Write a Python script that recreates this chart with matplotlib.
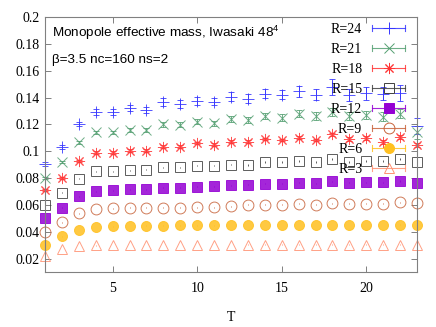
import numpy as np
import matplotlib
matplotlib.use("Agg")
import matplotlib.pyplot as plt
from matplotlib.lines import Line2D
from matplotlib.legend_handler import HandlerBase
from matplotlib.container import ErrorbarContainer
from matplotlib.ticker import FormatStrFormatter

plt.rcParams['font.family'] = 'Liberation Serif'
plt.rcParams['mathtext.fontset'] = 'custom'
plt.rcParams['mathtext.rm'] = 'Liberation Sans'

T = np.arange(1, 24)
labels = ["R=24", "R=21", "R=18", "R=15", "R=12", "R=9", "R=6", "R=3"]

r24 = [0.0905, 0.1035, 0.120, 0.129, 0.129, 0.132, 0.1307, 0.1365, 0.1352, 0.1375, 0.137, 0.1405,
       0.1392, 0.143, 0.142, 0.1445, 0.142, 0.148, 0.142, 0.1432, 0.143, 0.1432, 0.119]
e24 = [0.0015, 0.0015, 0.0015, 0.0022, 0.0022, 0.0022, 0.0022, 0.0028, 0.0028, 0.0028, 0.0028, 0.0033,
       0.0033, 0.0033, 0.0033, 0.004, 0.004, 0.006, 0.0045, 0.005, 0.005, 0.006, 0.006]
r21 = [0.080, 0.092, 0.1065, 0.114, 0.114, 0.1157, 0.1157, 0.1202, 0.1196, 0.122, 0.1207, 0.124,
       0.1232, 0.1262, 0.125, 0.128, 0.126, 0.1295, 0.126, 0.127, 0.1257, 0.128, 0.114]
e21 = [0.001, 0.001, 0.001, 0.0012, 0.0012, 0.0015, 0.0015, 0.0018, 0.0018, 0.002, 0.002, 0.0022,
       0.0022, 0.0025, 0.0025, 0.0028, 0.003, 0.003, 0.003, 0.0032, 0.0032, 0.0035, 0.005]
r18 = [0.0708, 0.0803, 0.093, 0.099, 0.099, 0.1005, 0.1005, 0.1035, 0.1035, 0.106, 0.105, 0.107,
       0.107, 0.109, 0.1083, 0.110, 0.1083, 0.1125, 0.109, 0.110, 0.107, 0.1108, 0.1045]
e18 = [0.0008] * 10 + [0.001] * 8 + [0.0015] * 5
r15 = [0.060, 0.069, 0.0796, 0.085, 0.085, 0.0858, 0.0863, 0.088, 0.088, 0.0893, 0.0893, 0.090,
       0.090, 0.092, 0.092, 0.0928, 0.092, 0.094, 0.092, 0.0928, 0.0928, 0.094, 0.092]
e15 = [0.0005] * 12 + [0.0008] * 11
r12 = [0.050, 0.058, 0.0666, 0.0703, 0.0708, 0.0716, 0.0716, 0.0728, 0.0728, 0.0736, 0.0738, 0.0745,
       0.075, 0.0758, 0.0758, 0.0765, 0.0762, 0.0775, 0.0765, 0.077, 0.077, 0.0778, 0.0765]
e12 = [0.0004] * 23
r9 = [0.040, 0.047, 0.0538, 0.057, 0.0575, 0.0578, 0.0578, 0.058, 0.058, 0.0583, 0.0583, 0.0591,
      0.060, 0.060, 0.060, 0.0608, 0.060, 0.0613, 0.0608, 0.0608, 0.0608, 0.062, 0.0615]
e9 = [0.0003] * 23
r6 = [0.030, 0.0366, 0.0413, 0.0434, 0.0441, 0.0444, 0.0445, 0.0446, 0.0447, 0.0447, 0.0448, 0.045,
      0.045, 0.045, 0.045, 0.045, 0.045, 0.045, 0.045, 0.045, 0.045, 0.0452, 0.045]
e6 = [0.0002] * 23
r3 = [0.022, 0.027, 0.0292, 0.0298, 0.0300, 0.0300, 0.0301, 0.0301, 0.0301, 0.0302, 0.0302, 0.0302,
      0.0303, 0.0303, 0.0303, 0.0303, 0.0303, 0.0303, 0.0303, 0.0303, 0.0303, 0.0303, 0.0303]
e3 = [0.0002] * 23

values = [r24, r21, r18, r15, r12, r9, r6, r3]
errors = [e24, e21, e18, e15, e12, e9, e6, e3]

colors = ['#3535ff', '#55a072', '#ff3535', '#404040', '#9400d3', '#c8643c', '#ffc020', '#ff9070']
markers = ['+', 'x', (8, 2, 0), 's', 's', 'o', 'o', '^']
filled = [False, False, False, False, True, False, True, False]
sizes = [8, 7.5, 8, 7.5, 7.2, 7.8, 7.2, 7.5]
caps = [2.2, 2.2, 2.2, 0, 0, 0, 0, 0]


class GnuErrHandler(HandlerBase):
    # gnuplot style key: horizontal line with end caps, point in the middle
    def create_artists(self, legend, orig, xdescent, ydescent, width, height, fontsize, trans):
        src = orig.lines[0]
        c = src.get_markeredgecolor()
        y = height / 2 - ydescent
        x0, x1 = -xdescent, width - xdescent
        cap = 0.3 * height
        line = Line2D([x0, x1], [y, y], color=c, lw=0.8, alpha=0.85)
        capl = Line2D([x0, x0, np.nan, x1, x1], [y - cap, y + cap, np.nan, y - cap, y + cap],
                      color=c, lw=0.8, alpha=0.85)
        mk = Line2D([(x0 + x1) / 2], [y], linestyle='none', marker=src.get_marker(),
                    markersize=src.get_markersize(), markerfacecolor=src.get_markerfacecolor(),
                    markeredgecolor=c, markeredgewidth=src.get_markeredgewidth())
        for a in (line, capl, mk):
            a.set_transform(trans)
        return [line, capl, mk]


fig = plt.figure(figsize=(4.36, 3.27), dpi=100)
ax = fig.add_axes([0.1032, 0.1682, 0.8532, 0.7798])

for v, e, c, m, f, s, cp, lab in zip(values, errors, colors, markers, filled, sizes, caps, labels):
    ax.errorbar(T, v, yerr=e, fmt='', marker=m, linestyle='none', color=c,
                markerfacecolor=c if f else 'none', markeredgecolor=c, markersize=s,
                markeredgewidth=0.7, elinewidth=0.7, capsize=cp, capthick=0.7,
                label=lab, clip_on=False, alpha=0.85)

ax.set_xlim(1, 23)
ax.set_ylim(0.01, 0.2)
ax.set_xticks([5, 10, 15, 20])
ax.set_yticks(np.arange(0.02, 0.2001, 0.02))
ax.yaxis.set_major_formatter(FormatStrFormatter('%g'))
ax.tick_params(direction='in', length=4.5, width=0.7, color='#808080', labelsize=10,
               top=True, right=True)
ax.tick_params(axis='x', pad=7)
ax.tick_params(axis='y', pad=4)
for sp in ax.spines.values():
    sp.set_color('#808080')
    sp.set_linewidth(0.8)

ax.set_xlabel('T', fontsize=10, labelpad=11.5)

ax.text(0.019, 0.937, r'Monopole effective mass, Iwasaki 48$^4$', transform=ax.transAxes,
        family='Liberation Sans', fontsize=9.7, va='center', ha='left')
ax.text(0.019, 0.831, 'β=3.5 nc=160 ns=2', transform=ax.transAxes,
        family='Liberation Sans', fontsize=9.7, va='center', ha='left')

# markerfirst=False right-aligns the rows, so the labels end at the same x
ax.legend(loc='upper right', bbox_to_anchor=(0.985, 1.0), borderaxespad=0.05,
          frameon=False, markerfirst=False, fontsize=10, handlelength=2.37,
          handletextpad=0.72, labelspacing=0.5,
          handler_map={ErrorbarContainer: GnuErrHandler()})

fig.savefig('out.png', dpi=100)
